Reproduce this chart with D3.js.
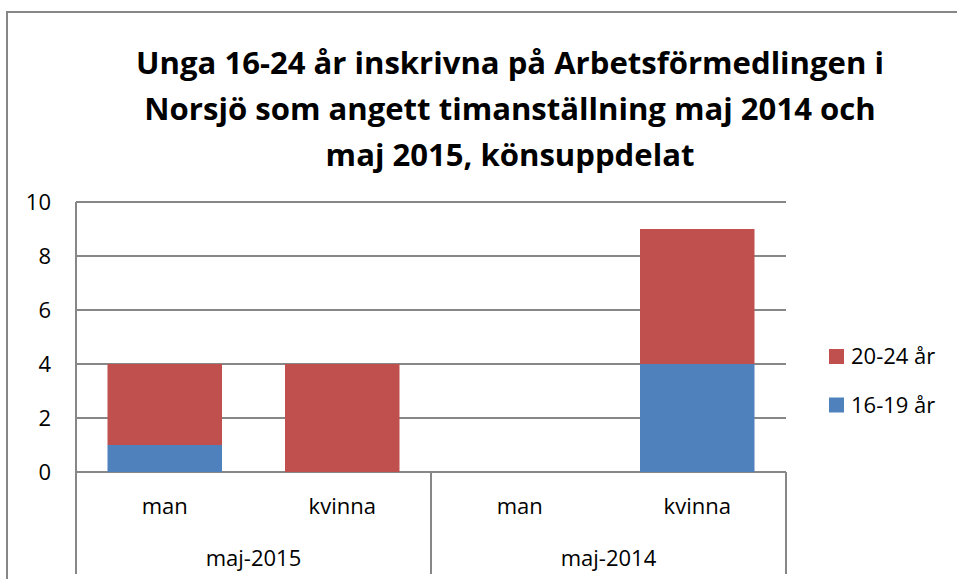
<!DOCTYPE html>
<html>
<head>
<meta charset="utf-8">
<script src="https://d3js.org/d3.v7.min.js"></script>
<style>
  body { margin: 0; background: #fff; }
  text { font-family: "Open Sans", sans-serif; fill: #000; }
</style>
</head>
<body>
<svg id="chart" width="957" height="579"></svg>
<script>
// data
var titleLines = ["Unga 16-24 år inskrivna på Arbetsförmedlingen i",
                  "Norsjö som angett timanställning maj 2014 och",
                  "maj 2015, könsuppdelat"];
var groups = ["maj-2015", "maj-2014"];
var genders = ["man", "kvinna"];
var seriesNames = ["16-19 år", "20-24 år"];
var values1619 = [1, 0, 0, 4];
var values2024 = [3, 4, 0, 5];
var yTicks = [0, 2, 4, 6, 8, 10];
var colors = ["#4f81bd", "#c0504d"];

var svg = d3.select("#chart"),
    gridColor = "#878787",
    plotLeft = 76, plotRight = 786, plotTop = 202, plotBottom = 472;

// rows for the stack, one per (group, gender)
var rows = [];
groups.forEach(function(g, gi) {
    genders.forEach(function(s, si) {
        var i = gi * genders.length + si;
        rows.push({key: g + "|" + s, group: g, gender: s, "16-19 år": values1619[i], "20-24 år": values2024[i]});
    });
});

var x = d3.scaleBand()
    .domain(rows.map(function(d) { return d.key; }))
    .range([plotLeft, plotRight])
    .paddingInner(0.355)
    .paddingOuter(0.1775);

var xGroup = d3.scaleBand().domain(groups).range([plotLeft, plotRight]);

var y = d3.scaleLinear().domain([0, 10]).range([plotBottom, plotTop]);

// outer chart border
svg.append("rect")
    .attr("x", 7).attr("y", 12).attr("width", 1200).attr("height", 1200)
    .attr("fill", "none").attr("stroke", gridColor).attr("stroke-width", 2);

// title
var title = svg.append("g");
titleLines.forEach(function(t, i) {
    title.append("text")
        .attr("x", 510).attr("y", 73.5 + i * 46)
        .attr("text-anchor", "middle")
        .style("font-weight", "bold")
        .style("font-size", "36px")
        .text(t);
});
// fit the title to the width of the original
var w0 = title.select("text").node().getComputedTextLength();
title.selectAll("text").style("font-size", (36 * 748 / w0) + "px");

// gridlines
svg.append("g").selectAll("line")
    .data(yTicks)
    .join("line")
    .attr("x1", plotLeft).attr("x2", plotRight)
    .attr("y1", function(d) { return y(d); })
    .attr("y2", function(d) { return y(d); })
    .attr("stroke", gridColor).attr("stroke-width", 2);

// y axis line
svg.append("line")
    .attr("x1", plotLeft).attr("x2", plotLeft)
    .attr("y1", y(10)).attr("y2", plotBottom)
    .attr("stroke", gridColor).attr("stroke-width", 2);

// y tick labels
svg.append("g").selectAll("text")
    .data(yTicks)
    .join("text")
    .attr("x", 51)
    .attr("y", function(d) { return y(d); })
    .attr("dy", "0.36em")
    .attr("text-anchor", "end")
    .style("font-size", "22px")
    .text(function(d) { return d; });

// stacked bars
var stack = d3.stack().keys(seriesNames);
var layers = stack(rows);

svg.append("g").selectAll("g")
    .data(layers)
    .join("g")
    .attr("fill", function(d, i) { return colors[i]; })
    .selectAll("rect")
    .data(function(d) { return d; })
    .join("rect")
    .attr("x", function(d) { return x(d.data.key); })
    .attr("width", x.bandwidth())
    .attr("y", function(d) { return y(d[1]); })
    .attr("height", function(d) { return y(d[0]) - y(d[1]); });

// category axis: separators below the baseline
var seps = [plotLeft].concat(groups.map(function(g) { return xGroup(g) + xGroup.bandwidth(); }));
svg.append("g").selectAll("line")
    .data(seps)
    .join("line")
    .attr("x1", function(d) { return d; }).attr("x2", function(d) { return d; })
    .attr("y1", plotBottom).attr("y2", 574)
    .attr("stroke", gridColor).attr("stroke-width", 2);

// gender labels
svg.append("g").selectAll("text")
    .data(rows)
    .join("text")
    .attr("x", function(d) { return x(d.key) + x.bandwidth() / 2; })
    .attr("y", 514)
    .attr("text-anchor", "middle")
    .style("font-size", "22px")
    .text(function(d) { return d.gender; });

// group labels
svg.append("g").selectAll("text")
    .data(groups)
    .join("text")
    .attr("x", function(d) { return xGroup(d) + xGroup.bandwidth() / 2; })
    .attr("y", 566)
    .attr("text-anchor", "middle")
    .style("font-size", "22px")
    .text(function(d) { return d; });

// legend, top series first
var legend = svg.append("g").selectAll("g")
    .data(seriesNames.slice().reverse())
    .join("g")
    .attr("transform", function(d, i) { return "translate(829," + (364 + i * 48.5) + ")"; });

legend.append("rect")
    .attr("x", 0).attr("y", -15).attr("width", 15).attr("height", 15)
    .attr("fill", function(d) { return colors[seriesNames.indexOf(d)]; });

legend.append("text")
    .attr("x", 22).attr("y", 0)
    .style("font-size", "22px")
    .text(function(d) { return d; });
</script>
</body>
</html>
